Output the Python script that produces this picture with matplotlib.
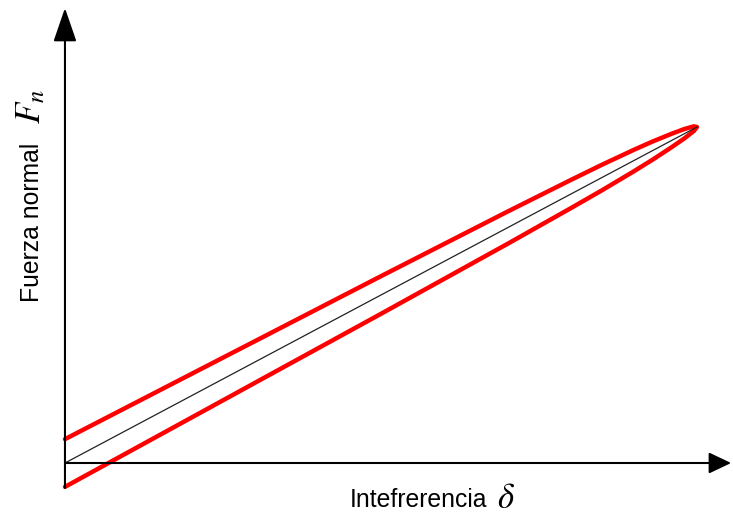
import matplotlib
matplotlib.use("Agg")
import matplotlib.pyplot as plt

plt.rcParams["font.family"] = ["Liberation Sans", "DejaVu Sans"]
plt.rcParams["mathtext.fontset"] = "stix"

# Interference (delta) and normal force (F_n), arbitrary units
delta = [0.0, 1.0, 2.0, 3.0, 4.0, 5.0, 6.0, 7.0, 8.0, 8.5, 9.0, 9.3, 9.6, 9.8, 9.95, 10.0]
force_loading = [0.71, 1.68, 2.65, 3.62, 4.59, 5.56, 6.52, 7.48, 8.42, 8.88,
                 9.32, 9.57, 9.80, 9.94, 10.02, 10.0]
force_unloading = [-0.71, 0.32, 1.35, 2.38, 3.41, 4.44, 5.48, 6.52, 7.58, 8.12,
                   8.68, 9.03, 9.40, 9.66, 9.88, 10.0]

# Linear elastic reference line
linear_delta = [0.0, 10.0]
linear_force = [0.0, 10.0]

x_word, x_symbol = "Intefrerencia", "$\\delta$"
y_word, y_symbol = "Fuerza normal", "$F_n$"

fig = plt.figure(figsize=(7.33, 5.18), dpi=100)
ax = fig.add_axes([0, 0, 1, 1])
ax.set_xlim(-1.028, 10.57)
ax.set_ylim(-1.637, 13.78)
ax.axis("off")

# Coordinate axes with arrow heads
ax.annotate("", xy=(0, 13.54), xytext=(0, -0.74),
            arrowprops=dict(arrowstyle="-|>,head_length=20.9,head_width=7.2",
                            mutation_scale=1, lw=1.5, color="black",
                            shrinkA=0, shrinkB=0))
ax.annotate("", xy=(10.54, 0), xytext=(0, 0),
            arrowprops=dict(arrowstyle="-|>,head_length=13.7,head_width=6.5",
                            mutation_scale=1, lw=1.5, color="black",
                            shrinkA=0, shrinkB=0))

# Hysteresis loop (loading above, unloading below)
loop_x = delta + delta[::-1]
loop_y = force_loading + force_unloading[::-1]
ax.plot(loop_x, loop_y, color="#ff0000", lw=3.2,
        solid_joinstyle="round", solid_capstyle="round")

# Linear reference
ax.plot(linear_delta, linear_force, color="#222222", lw=0.9)

W, H = 733, 518
fig.text(418 / W, 1 - 500 / H, x_word, fontsize=17.8, ha="center", va="center")
fig.text(506 / W, 1 - 499 / H, x_symbol, fontsize=25, ha="center", va="center")
fig.text(32 / W, 1 - 222 / H, y_word, fontsize=17.8, ha="center", va="center",
         rotation=90)
fig.text(31 / W, 1 - 107 / H, y_symbol, fontsize=25, ha="center", va="center",
         rotation=90)

fig.savefig("out.png", dpi=100)
